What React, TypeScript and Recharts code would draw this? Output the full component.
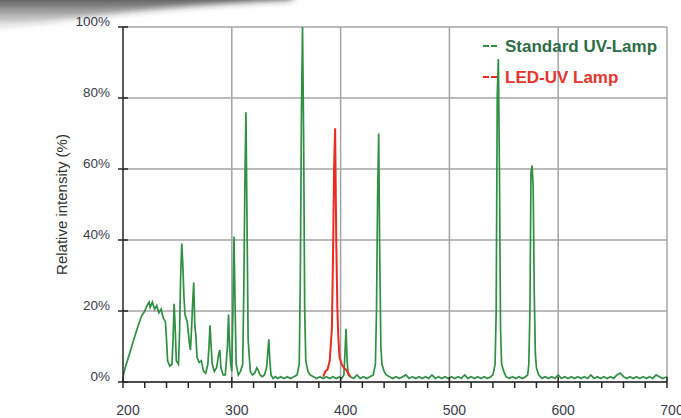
import { LineChart, Line, XAxis, YAxis, CartesianGrid, ReferenceLine } from "recharts";

// Standard UV lamp (mercury) spectrum
const standardNm = [
  200, 202, 205, 208, 211, 214, 217, 220, 222, 224, 225, 227, 229, 231, 233, 235, 237, 239, 240, 241,
  243, 245, 246, 247, 248, 249, 251, 252, 253, 254, 255, 256, 257, 259, 261, 262, 263, 264, 265, 266,
  267, 268, 270, 272, 274, 276, 278, 279, 280, 281, 282, 284, 286, 288, 289, 290, 292, 294, 295, 296,
  297, 298, 299, 300, 301, 302, 303, 304, 306, 308, 310, 311, 312, 313, 314, 315, 317, 319, 321, 323,
  324, 326, 328, 330, 332, 333, 334, 335, 336, 338, 340, 342, 345, 348, 351, 354, 357, 360, 362, 363,
  364, 365, 366, 367, 368, 370, 372, 375, 378, 381, 384, 387, 390, 393, 396, 399, 401, 403, 404, 405,
  406, 407, 409, 412, 415, 418, 421, 424, 427, 430, 432, 433, 434, 435, 436, 437, 438, 440, 442, 445,
  448, 451, 454, 457, 460, 463, 466, 469, 472, 475, 478, 481, 484, 487, 490, 493, 496, 499, 502, 505,
  508, 511, 514, 517, 520, 523, 526, 529, 532, 535, 538, 540, 542, 543, 544, 545, 546, 547, 548, 550,
  552, 555, 558, 561, 564, 567, 570, 572, 573, 574, 575, 576, 577, 578, 579, 580, 582, 585, 588, 591,
  594, 597, 600, 603, 606, 609, 612, 615, 618, 621, 624, 627, 630, 633, 636, 639, 642, 645, 648, 651,
  654, 657, 660, 663, 666, 669, 672, 675, 678, 681, 684, 687, 690, 693, 696, 700,
];
const standardPct = [
  1.5, 4, 7, 10, 13, 16, 18.5, 20, 21.5, 22.5, 21, 22.5, 20.5, 21.5, 19.5, 20.5, 18, 17, 12, 6,
  4.5, 5, 12, 22, 15, 6, 5, 14, 30, 39, 33, 24, 19, 17, 11, 9, 15, 22, 28, 16,
  13, 7, 5.5, 6, 3, 2.5, 5, 10, 16, 10, 5, 3, 4, 8, 9, 4, 2, 2, 6, 10,
  19, 10, 5, 3, 20, 41, 22, 5, 2, 3, 5, 25, 55, 76, 45, 12, 3, 2, 2.5, 4,
  3.5, 2, 1.5, 2, 4, 8, 12, 6, 2, 1, 1.5, 1, 1.5, 1, 1.5, 1, 1.5, 2, 5, 30,
  75, 100, 70, 20, 6, 3, 2, 1.5, 1, 1.5, 1, 1.5, 1, 1.5, 1, 1.5, 1, 2, 8, 15,
  6, 2, 1.5, 1, 2, 1, 1.5, 1, 1.5, 2, 5, 20, 52, 70, 35, 10, 5, 3, 2, 1.5,
  1, 1.5, 1, 1.5, 2, 1, 1.5, 1, 1.5, 1, 1.5, 1, 2, 1, 1.5, 1, 1.5, 1, 1.5, 1,
  1.5, 1, 2, 1, 1.5, 1, 1.5, 1, 1.5, 1, 1.5, 2, 5, 20, 81, 91, 60, 15, 5, 3,
  1.5, 1, 1.5, 1, 1.5, 1, 1.5, 2, 5, 20, 59, 61, 55, 25, 8, 4, 2, 1, 1.5, 1,
  1.5, 1, 2, 1, 1.5, 1, 1.5, 1, 1.5, 1, 1.5, 1, 2, 1, 1.5, 1, 1.5, 1, 1.5, 1,
  2, 2.5, 1.5, 1, 1.5, 1, 1.5, 1, 1.5, 1, 1.5, 1, 2, 1.5, 1, 1.5,
];

// LED-UV lamp (single emission band)
const ledNm = [384, 386, 388, 390, 392, 393, 394, 395, 396, 397, 398, 399, 401, 403, 405, 407, 409];
const ledPct = [1.5, 3, 3.5, 6, 15, 35, 60, 71.5, 40, 21, 12, 7, 5, 4, 3.5, 2.5, 1.5];

const xTicks = [200, 220, 240, 260, 280, 300, 320, 340, 360, 380, 400, 420, 440, 460, 480, 500, 520, 540, 560, 580, 600, 620, 640, 660, 680, 700];
const xGrid = [300, 400, 500, 600, 700];
const yTicks = [0, 20, 40, 60, 80, 100];

const standardData = standardNm.map((nm, i) => ({ nm, pct: standardPct[i] }));
const ledData = ledNm.map((nm, i) => ({ nm, pct: ledPct[i] }));

const GREEN = "#2f8f42";
const RED = "#ec2a1f";
const GRID = "#a4a4a4";
const AXIS = "#262626";
const LABEL = "#3b3b4a";
const FONT = "Liberation Sans, Arial, sans-serif";

function XTick({ x, y, payload }: any) {
  const v = payload.value;
  const major = v % 100 === 0;
  return (
    <g>
      <line x1={x} x2={x} y1={major ? y - 5 : y} y2={y + 6} stroke={AXIS} strokeWidth={1.5} />
      {major && (
        <text x={x + 5} y={y + 33} textAnchor="middle" fontSize={14} fill={LABEL} fontFamily={FONT}>
          {v}
        </text>
      )}
    </g>
  );
}

function YTick({ x, y, payload }: any) {
  return (
    <g>
      <line x1={x - 5} x2={x + 5} y1={y} y2={y} stroke={AXIS} strokeWidth={1.5} />
      <text x={x - 13} y={y - 6} dy="0.35em" textAnchor="end" fontSize={13.5} fill={LABEL} fontFamily={FONT}>
        {payload.value}%
      </text>
    </g>
  );
}

const legendRows = [
  { name: "Standard UV-Lamp", line: GREEN, text: "#2d6c47" },
  { name: "LED-UV Lamp", line: RED, text: "#e8342a" },
];

function LampLegend() {
  return (
    <svg width={196} height={60} style={{ position: "absolute", left: 483, top: 35, pointerEvents: "none" }}>
      {legendRows.map((r, i) => (
        <g key={r.name} transform={`translate(0, ${i * 31})`}>
          <line x1={0} x2={15} y1={11} y2={11} stroke={r.line} strokeWidth={2} strokeDasharray="6 2" />
          <text x={22} y={17} fontSize={17} fontWeight="bold" fill={r.text} fontFamily={FONT}>
            {r.name}
          </text>
        </g>
      ))}
    </svg>
  );
}

export default function App() {
  return (
    <div style={{ position: "absolute", left: 0, top: 0, width: 681, height: 418, background: "#fff", overflow: "hidden" }}>
      <LineChart width={681} height={418} margin={{ top: 27, right: 14, left: 0, bottom: 0 }}>
        <CartesianGrid vertical={false} stroke={GRID} strokeWidth={1.5} />
        {xGrid.map((v) => (
          <ReferenceLine key={v} x={v} stroke={GRID} strokeWidth={1.5} />
        ))}
        <XAxis
          dataKey="nm"
          type="number"
          domain={[200, 700]}
          ticks={xTicks}
          interval={0}
          height={36}
          tickSize={0}
          tickMargin={0}
          tickLine={false}
          axisLine={{ stroke: AXIS, strokeWidth: 1.5 }}
          tick={<XTick />}
          allowDataOverflow
        />
        <YAxis
          type="number"
          domain={[0, 100]}
          ticks={yTicks}
          interval={0}
          width={123}
          tickSize={0}
          tickMargin={0}
          tickLine={false}
          axisLine={{ stroke: AXIS, strokeWidth: 1.5 }}
          tick={<YTick />}
          label={{
            value: "Relative intensity (%)",
            angle: -90,
            position: "center",
            fontSize: 15,
            fill: "#333",
            fontFamily: FONT,
          }}
        />
        <Line data={standardData} dataKey="pct" type="linear" stroke={GREEN} strokeWidth={1.7} dot={false} isAnimationActive={false} />
        <Line data={ledData} dataKey="pct" type="linear" stroke={RED} strokeWidth={2} dot={false} isAnimationActive={false} />
      </LineChart>
      <LampLegend />
      <svg width={681} height={60} style={{ position: "absolute", left: 0, top: 0, pointerEvents: "none" }}>
        <defs>
          <linearGradient id="shade" x1="0" y1="0" x2="0" y2="1">
            <stop offset="0" stopColor="#2a2a2a" stopOpacity={0.95} />
            <stop offset="1" stopColor="#2a2a2a" stopOpacity={0} />
          </linearGradient>
          <filter id="soft">
            <feGaussianBlur stdDeviation="3" />
          </filter>
        </defs>
        <path d="M-10,-10 L300,-10 L290,0 Q150,6 -10,30 Z" fill="url(#shade)" filter="url(#soft)" />
      </svg>
    </div>
  );
}
